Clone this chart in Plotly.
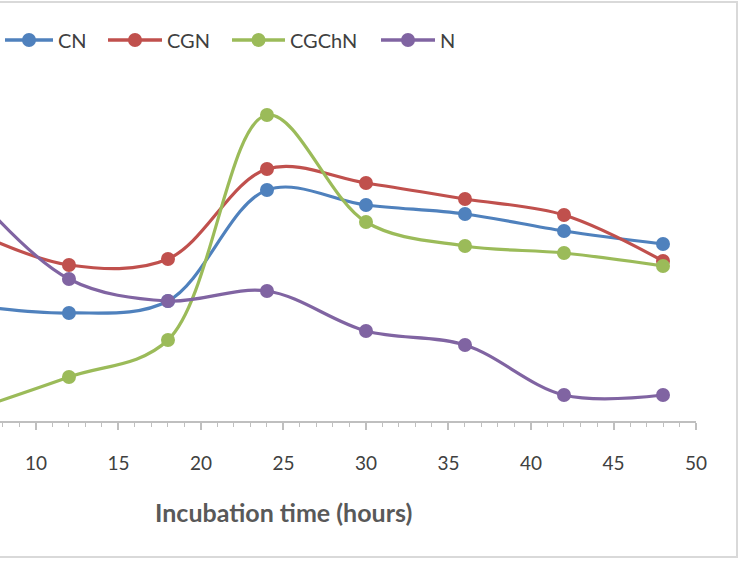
import plotly.graph_objects as go

# Incubation time (hours)
hours = [6, 12, 18, 24, 30, 36, 42, 48]

# Measured response for each treatment
cn = [1.16, 1.08, 1.20, 2.31, 2.16, 2.07, 1.90, 1.77]
cgn = [1.91, 1.56, 1.62, 2.52, 2.38, 2.22, 2.06, 1.60]
cgchn = [0.10, 0.44, 0.81, 3.06, 1.99, 1.75, 1.68, 1.55]
n = [2.32, 1.42, 1.20, 1.30, 0.90, 0.76, 0.26, 0.26]

series = [
    ("CN", cn, "#4f81bd"),
    ("CGN", cgn, "#c0504d"),
    ("CGChN", cgchn, "#9bbb59"),
    ("N", n, "#8064a2"),
]

tick_vals = [10, 15, 20, 25, 30, 35, 40, 45, 50]
tick_text = [str(v) for v in tick_vals]

FONT = "Lato, 'Open Sans', sans-serif"

# Plot area geometry (pixels)
W, H = 739, 561
ML, MR, MT, MB = 0, 43, 21, 140
PW = W - ML - MR
PH = H - MT - MB


def px(x):
    return (x - ML) / PW


def py(y):
    return (H - MB - y) / PH


fig = go.Figure()
for name, vals, color in series:
    fig.add_trace(go.Scatter(
        x=hours, y=vals, name=name, mode="lines+markers",
        line=dict(color=color, width=3.2, shape="spline", smoothing=1),
        marker=dict(color=color, size=14),
        showlegend=False,
    ))

# Legend row drawn along the top: line sample, dot and label for each series
legend_pos = [(5, 53), (108, 162), (232, 285), (381, 435)]
shapes = []
annotations = []
ly = 40
for (name, _, color), (x0, x1) in zip(series, legend_pos):
    shapes.append(dict(type="line", xref="paper", yref="paper",
                       x0=px(x0), x1=px(x1), y0=py(ly), y1=py(ly),
                       line=dict(color=color, width=3.5)))
    cx = (x0 + x1) / 2
    r = 7
    shapes.append(dict(type="circle", xref="paper", yref="paper",
                       x0=px(cx - r), x1=px(cx + r), y0=py(ly + r), y1=py(ly - r),
                       line=dict(width=0), fillcolor=color))
    annotations.append(dict(text=name, xref="paper", yref="paper",
                            x=px(x1 + 3), y=py(ly), xanchor="left", yanchor="middle",
                            showarrow=False,
                            font=dict(size=20, color="#404040", family=FONT)))

# Chart frame
shapes.append(dict(type="rect", xref="paper", yref="paper",
                   x0=px(-5), x1=px(737), y0=py(557), y1=py(2),
                   line=dict(color="#d9d9d9", width=2),
                   fillcolor="rgba(0,0,0,0)", layer="below"))

annotations.append(dict(text="<b>Incubation time (hours)</b>", xref="paper", yref="paper",
                        x=px(283), y=py(512), xanchor="center", yanchor="middle",
                        showarrow=False,
                        font=dict(size=25, color="#595959", family=FONT)))

fig.update_layout(
    width=W, height=H,
    margin=dict(l=ML, r=MR, t=MT, b=MB),
    paper_bgcolor="white", plot_bgcolor="white",
    font=dict(family=FONT, color="#404040", size=19),
    showlegend=False,
    xaxis=dict(
        range=[7.82, 50], showgrid=False, zeroline=False,
        showline=True, linecolor="#bfbfbf", linewidth=1.5,
        ticks="outside", ticklen=7, tickcolor="#bfbfbf", tickwidth=1.5,
        tickvals=tick_vals, ticktext=tick_text,
        tickfont=dict(size=19, color="#404040"),
        minor=dict(dtick=1, ticks="outside", ticklen=4, tickcolor="#bfbfbf", tickwidth=1),
        ticklabelstandoff=17,
    ),
    yaxis=dict(range=[0, 4.0], visible=False),
    shapes=shapes,
    annotations=annotations,
)

fig.write_html("out.html")
